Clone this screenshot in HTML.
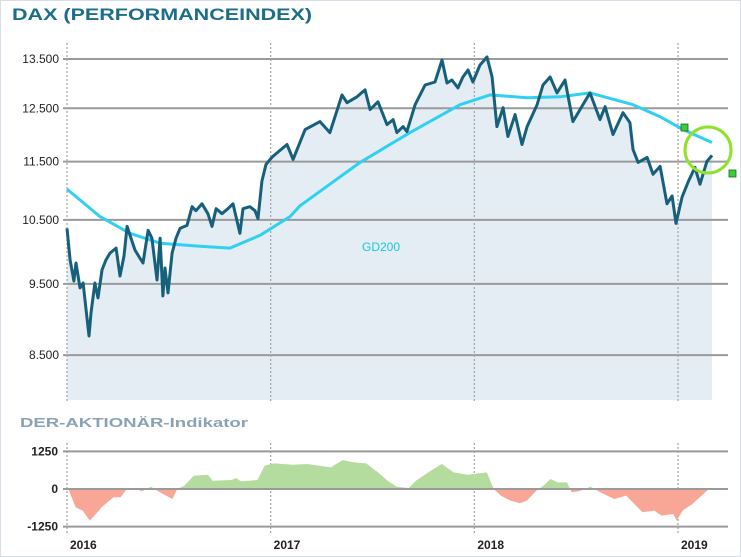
<!DOCTYPE html>
<html><head><meta charset="utf-8"><style>
html,body{margin:0;padding:0;background:#fff}
svg{display:block}
text{font-family:"Liberation Sans",sans-serif}
</style></head><body>
<svg id="c" width="741" height="557" viewBox="0 0 741 557">
<rect x="0.5" y="0.5" width="740" height="556" fill="#fff" stroke="#d6dee8"/>
<text x="12" y="20" font-size="17" font-weight="bold" fill="#1b6d8a" textLength="300" lengthAdjust="spacingAndGlyphs">DAX (PERFORMANCEINDEX)</text>
<text x="20" y="427" font-size="13" font-weight="bold" fill="#8aa2b6" textLength="228" lengthAdjust="spacingAndGlyphs">DER-AKTIONÄR-Indikator</text>
<g id="topg"></g>
<g id="botg"></g>
<text x="362" y="251" font-size="12" fill="#18c6e0">GD200</text>
<circle cx="708" cy="150" r="23" fill="none" stroke="#8ee22a" stroke-width="3"/>
<rect x="681" y="124" width="7" height="7" fill="#3ccc3c" stroke="#1a6a1a" stroke-width="0.8"/>
<rect x="729" y="170" width="7" height="7" fill="#3ccc3c" stroke="#1a6a1a" stroke-width="0.8"/>
</svg>
<script>
const yearTicks=[2016,2017,2018,2019];
const priceTicks=[13500,12500,11500,10500,9500,8500];
const priceTickLabels=["13.500","12.500","11.500","10.500","9.500","8.500"];
const indTicks=[1250,0,-1250];
const indTickLabels=["1250","0","-1250"];
const daxDates=[2016.000,2016.015,2016.034,2016.044,2016.064,2016.079,2016.098,2016.108,2016.118,2016.137,2016.152,2016.172,2016.191,2016.211,2016.241,2016.260,2016.280,2016.295,2016.314,2016.334,2016.358,2016.373,2016.398,2016.417,2016.442,2016.457,2016.471,2016.481,2016.496,2016.516,2016.535,2016.555,2016.589,2016.614,2016.633,2016.663,2016.692,2016.712,2016.732,2016.761,2016.790,2016.815,2016.849,2016.864,2016.898,2016.923,2016.938,2016.957,2016.977,2016.997,2017.011,2017.080,2017.110,2017.169,2017.242,2017.291,2017.350,2017.375,2017.424,2017.463,2017.488,2017.527,2017.571,2017.601,2017.620,2017.650,2017.669,2017.709,2017.758,2017.807,2017.841,2017.866,2017.890,2017.920,2017.944,2017.969,2017.993,2018.028,2018.062,2018.087,2018.111,2018.141,2018.165,2018.200,2018.234,2018.259,2018.308,2018.337,2018.372,2018.406,2018.445,2018.484,2018.519,2018.568,2018.617,2018.642,2018.681,2018.730,2018.764,2018.779,2018.804,2018.848,2018.877,2018.912,2018.946,2018.971,2018.990,2019.020,2019.049,2019.083,2019.108,2019.142,2019.167];
const daxValues=[10361,9861,9543,9815,9440,9514,9007,8757,9077,9514,9294,9709,9861,9969,10046,9618,9922,10393,10203,10015,9891,9815,10329,10203,9558,10203,9323,9739,9367,9969,10203,10361,10409,10717,10651,10766,10602,10393,10684,10602,10684,10766,10282,10684,10717,10651,10521,11153,11451,11540,11594,11812,11540,12090,12242,12034,12764,12608,12725,12863,12473,12627,12185,12280,12034,12147,12053,12569,12963,13023,13479,13003,13064,12903,13125,13270,13023,13374,13542,13125,12147,12511,11960,12376,11812,12147,12569,12963,13125,12803,13064,12242,12473,12803,12280,12530,11997,12414,12223,11721,11486,11576,11274,11415,10766,10899,10441,10882,11135,11397,11101,11504,11612];
const gdDates=[2016.000,2016.162,2016.309,2016.457,2016.653,2016.800,2016.948,2017.095,2017.144,2017.291,2017.439,2017.684,2017.930,2018.077,2018.259,2018.421,2018.568,2018.779,2018.912,2019.025,2019.167];
const gdValues=[11016,10554,10282,10124,10077,10046,10250,10554,10733,11101,11486,12034,12569,12764,12705,12725,12803,12569,12337,12090,11849];
const indDates=[2016.007,2016.042,2016.077,2016.112,2016.135,2016.170,2016.228,2016.263,2016.297,2016.332,2016.367,2016.390,2016.413,2016.437,2016.471,2016.518,2016.541,2016.576,2016.622,2016.692,2016.715,2016.808,2016.831,2016.854,2016.935,2016.970,2017.017,2017.109,2017.179,2017.295,2017.353,2017.411,2017.469,2017.527,2017.574,2017.620,2017.678,2017.713,2017.782,2017.840,2017.898,2017.968,2018.061,2018.095,2018.130,2018.177,2018.223,2018.258,2018.304,2018.339,2018.374,2018.409,2018.455,2018.478,2018.513,2018.571,2018.618,2018.687,2018.745,2018.826,2018.884,2018.919,2018.977,2018.993,2019.023,2019.070,2019.116,2019.151];
const indValues=[0,-608,-719,-1051,-885,-608,-277,-277,33,33,-77,0,77,-33,-166,-332,0,110,442,476,277,299,365,254,299,774,852,807,830,719,962,885,852,553,277,77,33,277,586,830,553,476,553,0,-221,-387,-476,-387,-55,110,332,221,221,-111,-77,77,-111,-332,-221,-774,-719,-885,-830,-1051,-719,-498,-221,0];

const NS="http://www.w3.org/2000/svg";
const X0=67,PX_PER_YEAR=203.67;
function xS(t){return X0+(t-2016)*PX_PER_YEAR;}
function yP(v){return 59-640*Math.log(v/13500);}
function yI(v){return 489-v*37.6/1250;}
function mk(tag,attrs,parent){const e=document.createElementNS(NS,tag);for(const k in attrs)e.setAttribute(k,attrs[k]);parent.appendChild(e);return e;}
const topG=document.getElementById('topg'),botG=document.getElementById('botg');

let d='M'+xS(daxDates[0])+',400';
daxDates.forEach((t,i)=>{d+=' L'+xS(t).toFixed(1)+','+yP(daxValues[i]).toFixed(1);});
d+=' L'+xS(daxDates[daxDates.length-1]).toFixed(1)+',400 Z';
const area=mk('path',{d:d,fill:'#e4edf4'},topG);



priceTicks.forEach((v,i)=>{
  const y=yP(v);
  const g=mk('line',{x1:63,x2:728,y1:y,y2:y,stroke:'#9a9a9a','stroke-width':2},topG);
  
  
  const tx=mk('text',{x:59,y:y+4,'font-size':12,fill:'#222','text-anchor':'end'},topG);
  tx.textContent=priceTickLabels[i];
  
  
});
yearTicks.forEach(t=>{
  const x=xS(t);
  const l=mk('line',{x1:x,x2:x,y1:43,y2:402,stroke:'#a8a8a8','stroke-width':1.3,'stroke-dasharray':'2,2'},topG);
  
  
  const l2=mk('line',{x1:x,x2:x,y1:443,y2:535,stroke:'#a8a8a8','stroke-width':1.3,'stroke-dasharray':'2,2'},botG);
  
  
  const tx=mk('text',{x:x+3,y:549,'font-size':12,'font-weight':'bold',fill:'#222','text-anchor':'start'},botG);
  tx.textContent=String(t);
  
  
});

let g2='';
gdDates.forEach((t,i)=>{g2+=(i?' L':'M')+xS(t).toFixed(1)+','+yP(gdValues[i]).toFixed(1);});
const gl=mk('path',{d:g2,fill:'none',stroke:'#2fd0f2','stroke-width':3,'stroke-linejoin':'round'},topG);



let l='';
daxDates.forEach((t,i)=>{l+=(i?' L':'M')+xS(t).toFixed(1)+','+yP(daxValues[i]).toFixed(1);});
const dl=mk('path',{d:l,fill:'none',stroke:'#17607c','stroke-width':3,'stroke-linejoin':'round'},topG);



const defs=mk('defs',{},botG);
const cp=mk('clipPath',{id:'pos'},defs);mk('rect',{x:0,y:0,width:741,height:yI(0)},cp);
const cn=mk('clipPath',{id:'neg'},defs);mk('rect',{x:0,y:yI(0),width:741,height:100},cn);
let ip='M'+xS(indDates[0]).toFixed(1)+','+yI(0);
indDates.forEach((t,i)=>{ip+=' L'+xS(t).toFixed(1)+','+yI(indValues[i]).toFixed(1);});
ip+=' L'+xS(indDates[indDates.length-1]).toFixed(1)+','+yI(0)+' Z';
const pa=mk('path',{d:ip,fill:'#b4dc9e','clip-path':'url(#pos)'},botG);


const na=mk('path',{d:ip,fill:'#f8a696','clip-path':'url(#neg)'},botG);


indTicks.forEach((v,i)=>{
  const y=yI(v);
  const g=mk('line',{x1:63,x2:728,y1:y,y2:y,stroke:'#9a9a9a','stroke-width':2},botG);
  
  
  const tx=mk('text',{x:58,y:y+4,'font-size':12,'font-weight':'bold',fill:'#222','text-anchor':'end'},botG);
  tx.textContent=indTickLabels[i];
  
  
});
</script>
</body></html>
